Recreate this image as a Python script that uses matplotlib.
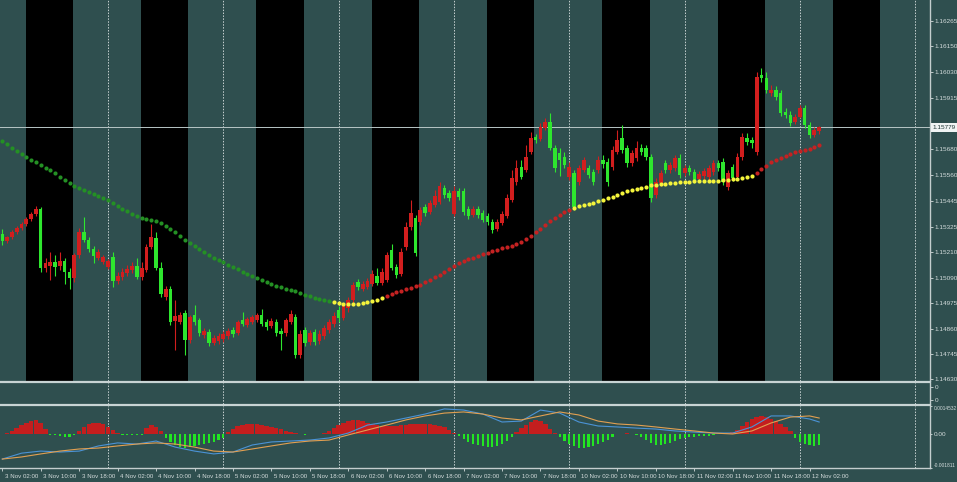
import matplotlib
matplotlib.use('Agg')
import matplotlib.pyplot as plt
import numpy as np
from matplotlib.lines import Line2D
from matplotlib.transforms import blended_transform_factory as blend

# EURUSD H1, 3 Nov 02:00 .. 12 Nov 04:00 (bar index 0..170)
opens = [1.15293, 1.15260, 1.15279, 1.15302, 1.15319, 1.15338, 1.15361, 1.15384, 1.15407, 1.15137,
         1.15147, 1.15165, 1.15147, 1.15169, 1.15119, 1.15091, 1.15196, 1.15302, 1.15265, 1.15224,
         1.15182, 1.15165, 1.15142, 1.15187, 1.15077, 1.15096, 1.15114, 1.15128, 1.15147, 1.15096,
         1.15128, 1.15233, 1.15274, 1.15137, 1.15005, 1.15041, 1.14895, 1.14891, 1.14931, 1.14808,
         1.14922, 1.14900, 1.14831, 1.14845, 1.14794, 1.14803, 1.14813, 1.14827, 1.14854, 1.14840,
         1.14900, 1.14877, 1.14891, 1.14900, 1.14922, 1.14891, 1.14873, 1.14891, 1.14849, 1.14840,
         1.14891, 1.14913, 1.14740, 1.14854, 1.14799, 1.14845, 1.14803, 1.14827, 1.14854, 1.14882,
         1.14945, 1.14908, 1.14954, 1.14991, 1.15073, 1.15041, 1.15050, 1.15064, 1.15101, 1.15068,
         1.15082, 1.15219, 1.15142, 1.15110, 1.15233, 1.15324, 1.15365, 1.15347, 1.15416, 1.15393,
         1.15425, 1.15439, 1.15502, 1.15479, 1.15384, 1.15488, 1.15488, 1.15407, 1.15379, 1.15407,
         1.15388, 1.15375, 1.15347, 1.15315, 1.15342, 1.15375, 1.15448, 1.15530, 1.15598, 1.15585,
         1.15667, 1.15735, 1.15726, 1.15776, 1.15804, 1.15685, 1.15662, 1.15644, 1.15553, 1.15571,
         1.15530, 1.15585, 1.15593, 1.15576, 1.15585, 1.15630, 1.15621, 1.15598, 1.15667, 1.15730,
         1.15685, 1.15616, 1.15639, 1.15685, 1.15685, 1.15644, 1.15470, 1.15525, 1.15616, 1.15585,
         1.15593, 1.15639, 1.15571, 1.15593, 1.15576, 1.15544, 1.15558, 1.15553, 1.15576, 1.15616,
         1.15621, 1.15507, 1.15598, 1.15553, 1.15644, 1.15730, 1.15722, 1.15667, 1.16018, 1.16004,
         1.15936, 1.15950, 1.15936, 1.15850, 1.15836, 1.15804, 1.15827, 1.15867, 1.15790, 1.15744,
         1.15762]
closes = [1.15260, 1.15279, 1.15302, 1.15319, 1.15338, 1.15361, 1.15384, 1.15407, 1.15137, 1.15160,
          1.15165, 1.15142, 1.15169, 1.15119, 1.15091, 1.15196, 1.15302, 1.15265, 1.15224, 1.15192,
          1.15210, 1.15187, 1.15169, 1.15077, 1.15101, 1.15119, 1.15133, 1.15147, 1.15096, 1.15137,
          1.15233, 1.15279, 1.15137, 1.15019, 1.15041, 1.14891, 1.14918, 1.14922, 1.14808, 1.14913,
          1.14891, 1.14840, 1.14849, 1.14794, 1.14817, 1.14827, 1.14836, 1.14849, 1.14836, 1.14891,
          1.14882, 1.14904, 1.14913, 1.14922, 1.14882, 1.14868, 1.14895, 1.14840, 1.14836, 1.14900,
          1.14927, 1.14740, 1.14836, 1.14794, 1.14840, 1.14799, 1.14836, 1.14863, 1.14891, 1.14918,
          1.14908, 1.14964, 1.14991, 1.15059, 1.15050, 1.15064, 1.15077, 1.15110, 1.15068, 1.15119,
          1.15196, 1.15137, 1.15105, 1.15210, 1.15324, 1.15388, 1.15205, 1.15402, 1.15388, 1.15434,
          1.15466, 1.15512, 1.15470, 1.15456, 1.15488, 1.15461, 1.15393, 1.15375, 1.15407, 1.15379,
          1.15356, 1.15347, 1.15311, 1.15347, 1.15384, 1.15456, 1.15548, 1.15593, 1.15553, 1.15644,
          1.15730, 1.15722, 1.15781, 1.15804, 1.15685, 1.15593, 1.15630, 1.15607, 1.15598, 1.15416,
          1.15593, 1.15630, 1.15562, 1.15530, 1.15630, 1.15612, 1.15530, 1.15676, 1.15722, 1.15676,
          1.15616, 1.15662, 1.15685, 1.15667, 1.15644, 1.15456, 1.15530, 1.15571, 1.15585, 1.15607,
          1.15639, 1.15562, 1.15593, 1.15576, 1.15539, 1.15567, 1.15580, 1.15593, 1.15616, 1.15593,
          1.15530, 1.15571, 1.15548, 1.15644, 1.15735, 1.15712, 1.15708, 1.16009, 1.16004, 1.15950,
          1.15950, 1.15918, 1.15845, 1.15836, 1.15799, 1.15827, 1.15867, 1.15790, 1.15744, 1.15767,
          1.15779]
highs = [1.15315, 1.15284, 1.15311, 1.15329, 1.15347, 1.15370, 1.15393, 1.15421, 1.15416, 1.15182,
         1.15210, 1.15196, 1.15210, 1.15182, 1.15137, 1.15205, 1.15319, 1.15370, 1.15279, 1.15238,
         1.15224, 1.15196, 1.15178, 1.15210, 1.15119, 1.15137, 1.15151, 1.15165, 1.15182, 1.15165,
         1.15247, 1.15338, 1.15302, 1.15165, 1.15055, 1.15055, 1.14991, 1.14936, 1.14945, 1.14922,
         1.14968, 1.14908, 1.14863, 1.14859, 1.14831, 1.14840, 1.14849, 1.14863, 1.14868, 1.14900,
         1.14936, 1.14913, 1.14922, 1.14931, 1.14950, 1.14904, 1.14908, 1.14904, 1.14863, 1.14908,
         1.14945, 1.14927, 1.14854, 1.14868, 1.14854, 1.14859, 1.14854, 1.14877, 1.14904, 1.14936,
         1.14964, 1.14977, 1.15005, 1.15073, 1.15087, 1.15077, 1.15091, 1.15128, 1.15137, 1.15137,
         1.15210, 1.15247, 1.15156, 1.15228, 1.15347, 1.15448, 1.15379, 1.15416, 1.15430, 1.15448,
         1.15493, 1.15530, 1.15516, 1.15493, 1.15512, 1.15502, 1.15502, 1.15421, 1.15421, 1.15421,
         1.15402, 1.15388, 1.15361, 1.15361, 1.15397, 1.15475, 1.15585, 1.15630, 1.15630, 1.15699,
         1.15758, 1.15749, 1.15799, 1.15822, 1.15845, 1.15699, 1.15685, 1.15667, 1.15621, 1.15585,
         1.15607, 1.15644, 1.15607, 1.15589, 1.15649, 1.15653, 1.15639, 1.15694, 1.15767, 1.15790,
         1.15699, 1.15676, 1.15717, 1.15704, 1.15699, 1.15658, 1.15548, 1.15585, 1.15630, 1.15621,
         1.15653, 1.15658, 1.15607, 1.15607, 1.15589, 1.15580, 1.15593, 1.15607, 1.15630, 1.15630,
         1.15639, 1.15585, 1.15612, 1.15662, 1.15753, 1.15753, 1.15735, 1.16032, 1.16050, 1.16032,
         1.15973, 1.15969, 1.15950, 1.15867, 1.15854, 1.15840, 1.15881, 1.15881, 1.15804, 1.15781,
         1.15786]
lows = [1.15242, 1.15251, 1.15270, 1.15293, 1.15311, 1.15329, 1.15351, 1.15375, 1.15119, 1.15119,
        1.15082, 1.15101, 1.15128, 1.15064, 1.15041, 1.15073, 1.15182, 1.15256, 1.15210, 1.15160,
        1.15174, 1.15156, 1.15133, 1.15050, 1.15064, 1.15082, 1.15101, 1.15114, 1.15087, 1.15082,
        1.15119, 1.15224, 1.15128, 1.15005, 1.14991, 1.14877, 1.14763, 1.14882, 1.14740, 1.14794,
        1.14877, 1.14827, 1.14817, 1.14781, 1.14785, 1.14790, 1.14799, 1.14813, 1.14822, 1.14831,
        1.14873, 1.14868, 1.14882, 1.14891, 1.14873, 1.14854, 1.14863, 1.14827, 1.14763, 1.14827,
        1.14882, 1.14726, 1.14726, 1.14781, 1.14785, 1.14785, 1.14790, 1.14813, 1.14840, 1.14868,
        1.14891, 1.14900, 1.14936, 1.14977, 1.15037, 1.15032, 1.15041, 1.15055, 1.15059, 1.15059,
        1.15073, 1.15128, 1.15091, 1.15101, 1.15219, 1.15311, 1.15192, 1.15333, 1.15375, 1.15384,
        1.15416, 1.15430, 1.15456, 1.15443, 1.15375, 1.15448, 1.15379, 1.15361, 1.15370, 1.15365,
        1.15347, 1.15333, 1.15297, 1.15306, 1.15333, 1.15365, 1.15439, 1.15516, 1.15544, 1.15576,
        1.15658, 1.15708, 1.15717, 1.15767, 1.15676, 1.15576, 1.15558, 1.15593, 1.15539, 1.15402,
        1.15516, 1.15576, 1.15548, 1.15516, 1.15571, 1.15593, 1.15512, 1.15585, 1.15658, 1.15662,
        1.15598, 1.15603, 1.15625, 1.15653, 1.15630, 1.15439, 1.15456, 1.15512, 1.15571, 1.15571,
        1.15580, 1.15548, 1.15558, 1.15562, 1.15525, 1.15530, 1.15544, 1.15539, 1.15562, 1.15580,
        1.15516, 1.15493, 1.15534, 1.15539, 1.15630, 1.15699, 1.15685, 1.15653, 1.15987, 1.15936,
        1.15923, 1.15904, 1.15832, 1.15822, 1.15786, 1.15795, 1.15822, 1.15776, 1.15730, 1.15735,
        1.15749]

# slow moving average (dotted), one value per bar, and its colour states
slow_ma = [1.15717, 1.15704, 1.15685, 1.15671, 1.15658, 1.15644, 1.15630, 1.15621, 1.15607, 1.15593,
           1.15585, 1.15571, 1.15553, 1.15539, 1.15525, 1.15512, 1.15502, 1.15493, 1.15484, 1.15475,
           1.15466, 1.15456, 1.15448, 1.15434, 1.15421, 1.15407, 1.15397, 1.15384, 1.15375, 1.15365,
           1.15361, 1.15356, 1.15351, 1.15342, 1.15329, 1.15315, 1.15302, 1.15284, 1.15265, 1.15251,
           1.15238, 1.15224, 1.15210, 1.15196, 1.15182, 1.15174, 1.15165, 1.15151, 1.15142, 1.15133,
           1.15119, 1.15110, 1.15101, 1.15091, 1.15082, 1.15073, 1.15064, 1.15055, 1.15050, 1.15041,
           1.15037, 1.15032, 1.15023, 1.15014, 1.15010, 1.15000, 1.14996, 1.14991, 1.14986, 1.14982,
           1.14977, 1.14973, 1.14973, 1.14973, 1.14973, 1.14977, 1.14982, 1.14986, 1.14991, 1.15000,
           1.15010, 1.15019, 1.15028, 1.15032, 1.15041, 1.15046, 1.15055, 1.15059, 1.15073, 1.15082,
           1.15096, 1.15105, 1.15119, 1.15133, 1.15147, 1.15160, 1.15169, 1.15178, 1.15182, 1.15192,
           1.15201, 1.15205, 1.15214, 1.15219, 1.15228, 1.15233, 1.15238, 1.15247, 1.15256, 1.15270,
           1.15284, 1.15302, 1.15315, 1.15333, 1.15351, 1.15365, 1.15379, 1.15393, 1.15402, 1.15411,
           1.15421, 1.15425, 1.15430, 1.15434, 1.15443, 1.15448, 1.15456, 1.15461, 1.15470, 1.15479,
           1.15488, 1.15493, 1.15498, 1.15502, 1.15507, 1.15516, 1.15516, 1.15521, 1.15521, 1.15525,
           1.15525, 1.15530, 1.15530, 1.15530, 1.15534, 1.15534, 1.15534, 1.15534, 1.15534, 1.15534,
           1.15539, 1.15539, 1.15544, 1.15544, 1.15548, 1.15553, 1.15558, 1.15571, 1.15589, 1.15603,
           1.15621, 1.15630, 1.15639, 1.15649, 1.15658, 1.15667, 1.15671, 1.15676, 1.15681, 1.15690,
           1.15699]
ma_seg_start = [0, 69, 80, 119, 157]
ma_seg_state = ['down', 'flat', 'up', 'flat', 'up']

# MACD-type oscillator
macd_hist = [0.0, 0.00005, 0.00016, 0.00032, 0.00047, 0.00058, 0.00068, 0.00074, 0.00058, 0.00026,
             -0.00005, -0.00008, -0.00011, -0.00016, -0.00016, -0.00005, 0.00016, 0.00037, 0.00053, 0.00058,
             0.00058, 0.00053, 0.00037, 0.00021, 0.00005, -0.00005, -0.00005, -0.00005, -0.00008, -0.00005,
             0.00032, 0.00047, 0.00037, 0.00016, -0.00021, -0.00042, -0.00058, -0.00068, -0.00074, -0.00068,
             -0.00063, -0.00058, -0.00053, -0.00047, -0.00042, -0.00032, -0.00021, 0.00011, 0.00026, 0.00042,
             0.00047, 0.00053, 0.00053, 0.00053, 0.00047, 0.00042, 0.00037, 0.00032, 0.00026, 0.00016,
             0.00011, 0.00005, 0.0, -0.00005, 0.0, 0.0, 0.0, 0.00005, 0.00016, 0.00032,
             0.00047, 0.00058, 0.00068, 0.00074, 0.00074, 0.00068, 0.00058, 0.00053, 0.00047, 0.00042,
             0.00042, 0.00042, 0.00042, 0.00047, 0.00047, 0.00053, 0.00053, 0.00053, 0.00053, 0.00053,
             0.00047, 0.00042, 0.00037, 0.00021, 0.00005, -0.00011, -0.00026, -0.00042, -0.00053, -0.00058,
             -0.00063, -0.00068, -0.00068, -0.00063, -0.00053, -0.00037, -0.00016, 0.00011, 0.00032, 0.00047,
             0.00063, 0.00074, 0.00068, 0.00053, 0.00026, 0.00005, -0.00016, -0.00037, -0.00053, -0.00063,
             -0.00074, -0.00074, -0.00068, -0.00063, -0.00053, -0.00042, -0.00032, -0.00016, 0.0, 0.0,
             0.00005, 0.0, -0.00005, -0.00016, -0.00032, -0.00047, -0.00058, -0.00058, -0.00053, -0.00047,
             -0.00037, -0.00026, -0.00021, -0.00016, -0.00016, -0.00011, -0.00011, -0.00011, -0.00005, 0.0,
             0.0, 0.00005, 0.00011, 0.00021, 0.00042, 0.00063, 0.00079, 0.00090, 0.00095, 0.00090,
             0.00079, 0.00068, 0.00053, 0.00037, 0.00016, -0.00021, -0.00042, -0.00053, -0.00058, -0.00063,
             -0.00058]
macd_line_idx = [0, 4, 8, 12, 16, 20, 24, 28, 32, 36, 40, 44, 48, 52, 56, 60, 64, 68, 72, 76, 80, 84,
                 88, 92, 96, 100, 104, 108, 112, 116, 120, 124, 128, 132, 136, 140, 144, 148, 152, 156,
                 160, 164, 168, 170]
macd_blue = [-0.00134, -0.00103, -0.00092, -0.00097, -0.00092, -0.00065, -0.00049, -0.00055, -0.00039,
             -0.00071, -0.00092, -0.00107, -0.00097, -0.00060, -0.00044, -0.00039, -0.00034, -0.00023,
             0.00003, 0.00045, 0.00061, 0.00082, 0.00103, 0.00130, 0.00124, 0.00103, 0.00061, 0.00066,
             0.00124, 0.00108, 0.00061, 0.00040, 0.00035, 0.00029, 0.00024, 0.00014, 0.00008, 0.00003,
             0.00003, 0.00035, 0.00093, 0.00093, 0.00077, 0.00061]
macd_orange = [-0.00134, -0.00123, -0.00107, -0.00092, -0.00081, -0.00076, -0.00065, -0.00055, -0.00049,
               -0.00055, -0.00071, -0.00092, -0.00097, -0.00081, -0.00065, -0.00049, -0.00039, -0.00034,
               -0.00007, 0.00019, 0.00045, 0.00072, 0.00093, 0.00108, 0.00114, 0.00103, 0.00082, 0.00072,
               0.00093, 0.00114, 0.00098, 0.00066, 0.00051, 0.00045, 0.00035, 0.00024, 0.00014, 0.00003,
               -0.00002, 0.00014, 0.00056, 0.00087, 0.00093, 0.00082]

price_ticks = [1.16265, 1.16150, 1.16030, 1.15915, 1.15680, 1.15560, 1.15445, 1.15325,
               1.15210, 1.15090, 1.14975, 1.14860, 1.14745, 1.14630]
last_price = 1.15779
day_starts = [-2, 22, 46, 70, 94, 118, 142, 166, 190]
time_idx = list(range(0, 169, 8))
time_labels = ['3 Nov 02:00', '3 Nov 10:00', '3 Nov 18:00', '4 Nov 02:00', '4 Nov 10:00',
               '4 Nov 18:00', '5 Nov 02:00', '5 Nov 10:00', '5 Nov 18:00', '6 Nov 02:00',
               '6 Nov 10:00', '6 Nov 18:00', '7 Nov 02:00', '7 Nov 10:00', '7 Nov 18:00',
               '10 Nov 02:00', '10 Nov 10:00', '10 Nov 18:00', '11 Nov 02:00', '11 Nov 10:00',
               '11 Nov 18:00', '12 Nov 02:00']

BG = '#2f4f4f'
FG = '#d4dcdc'
BULL = '#d21e1e'
BEAR = '#2ee62e'
MA_COL = {'down': '#249024', 'flat': '#f4f43c', 'up': '#c42222'}
FONT = 'Liberation Sans'

W, H = 957, 482
fig = plt.figure(figsize=(W / 100, H / 100), dpi=100, facecolor=BG)


def box(x0, y0, x1, y1):
    return [x0 / W, 1 - y1 / H, (x1 - x0) / W, (y1 - y0) / H]


ax = fig.add_axes(box(0, 0, 930, 381))
ax_mid = fig.add_axes(box(0, 383, 930, 404))
ax_m = fig.add_axes(box(0, 406, 930, 468))

x = np.arange(len(closes))
o = np.array(opens)
c = np.array(closes)
hi = np.array(highs)
lo = np.array(lows)
xmin, xmax = -0.48, 193.07

for a in (ax, ax_mid, ax_m):
    a.set_facecolor(BG)
    a.set_xlim(xmin, xmax)
    for s in ('left', 'top', 'bottom'):
        a.spines[s].set_visible(False)
    a.spines['right'].set_color('#c4cece')
    a.spines['right'].set_linewidth(1.0)
    a.yaxis.tick_right()
    a.tick_params(axis='y', colors=FG, labelsize=4.6, length=2, width=0.6, pad=1.5)
    a.tick_params(axis='x', bottom=False, labelbottom=False)
    for d in day_starts:
        a.axvline(d, color='#c8d2d2', lw=0.7, ls=(0, (1.5, 1.5)), zorder=1)

# session shading
for d in day_starts:
    ax.axvspan(d + 6.9, d + 16.7, color='black', lw=0, zorder=0)

ax.set_ylim(1.14621, 1.16361)
ax.set_yticks(price_ticks)
ax.set_yticklabels([f'{p:.5f}' for p in price_ticks], fontfamily=FONT)

# candles
up = c >= o
ax.vlines(x[up], lo[up], hi[up], color=BULL, lw=0.8, zorder=3)
ax.vlines(x[~up], lo[~up], hi[~up], color=BEAR, lw=0.8, zorder=3)
body = np.maximum(np.abs(c - o), 0.00003)
ax.bar(x[up], body[up], bottom=np.minimum(o, c)[up], width=0.8, color=BULL, lw=0, zorder=4)
ax.bar(x[~up], body[~up], bottom=np.minimum(o, c)[~up], width=0.7, color=BEAR, lw=0, zorder=4)

# slow MA dots
ma = np.array(slow_ma)
bounds = ma_seg_start + [len(ma)]
for k, st in enumerate(ma_seg_state):
    sl = slice(bounds[k], bounds[k + 1])
    ax.scatter(x[sl], ma[sl], s=9, color=MA_COL[st], lw=0, zorder=5)

# last price line and label
ax.axhline(last_price, color='#b8c6c6', lw=0.7, zorder=2)
ax.text(1.003, last_price, f'{last_price:.5f}', transform=blend(ax.transAxes, ax.transData),
        ha='left', va='center', fontsize=4.6, fontfamily=FONT, color='#1e3434',
        bbox=dict(boxstyle='square,pad=0.25', fc='#f0f4f4', ec='none'), zorder=6)

# empty middle window
ax_mid.set_ylim(0, 1)
ax_mid.set_yticks([0.8, 0.2])
ax_mid.set_yticklabels(['0', '0'], fontfamily=FONT)

# oscillator window
hist = np.array(macd_hist)
pos = hist > 0
ax_m.bar(x[pos], hist[pos], width=0.95, color='#c41e1e', lw=0, zorder=3)
ax_m.bar(x[~pos], hist[~pos], width=0.45, color='#22e622', lw=0, zorder=3)
ax_m.plot(macd_line_idx, macd_blue, color='#4b93d6', lw=0.8, zorder=4)
ax_m.plot(macd_line_idx, macd_orange, color='#e2a052', lw=0.8, zorder=4)
ax_m.set_ylim(-0.001811, 0.0014532)
ax_m.set_yticks([0.0014532, 0.0, -0.001811])
labs = ax_m.set_yticklabels(['0.0014532', '0.00', '-0.001811'], fontfamily=FONT)
ax_m.tick_params(axis='y', length=1.5, pad=1)
labs[0].set_va('top')
labs[0].set_fontsize(3.5)
labs[2].set_va('bottom')
labs[2].set_fontsize(3.5)
ax_m.spines['bottom'].set_visible(True)
ax_m.spines['bottom'].set_color('#c4cece')
ax_m.spines['bottom'].set_linewidth(1.0)

# time axis
ax_m.set_xticks(time_idx)
ax_m.tick_params(axis='x', bottom=True, direction='out', length=2, width=0.6, color=FG,
                 labelbottom=False)
tr = blend(ax_m.transData, ax_m.transAxes)
for i, lab in zip(time_idx, time_labels):
    ax_m.text(i + 0.5, -0.13, lab, transform=tr, ha='left', va='center', fontsize=4.4,
              fontfamily=FONT, color=FG, clip_on=False)

# window separators
for yy in (382, 405):
    fig.add_artist(Line2D([0, 930 / W], [1 - yy / H] * 2, color='#c8d4d4', lw=1.6))

fig.savefig('out.png', dpi=100, facecolor=BG)
